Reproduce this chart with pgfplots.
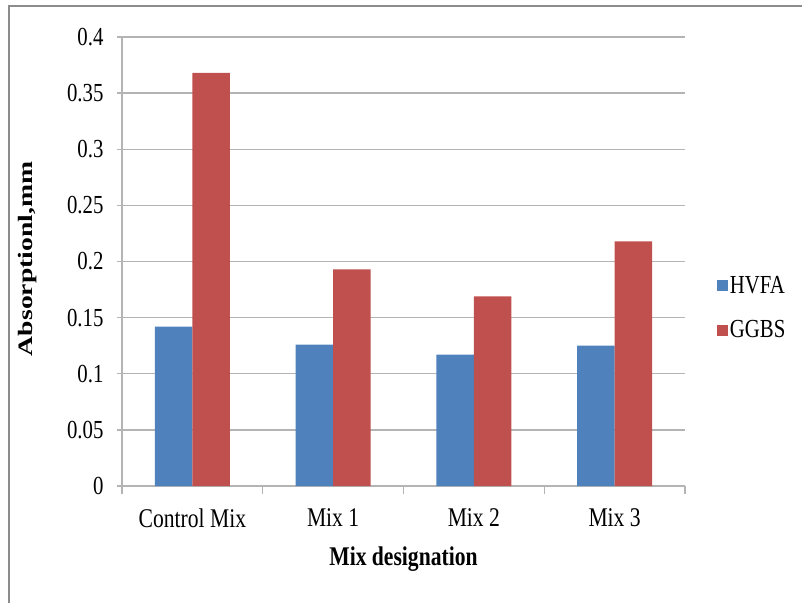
\documentclass[border=0pt]{standalone}
\usepackage{fontspec}
\setmainfont{Liberation Serif}[FakeStretch=0.8]
\newfontfamily\ylabfont{Liberation Serif}[FakeStretch=1.35]
\usepackage{pgfplots}
\pgfplotsset{compat=1.18}
\definecolor{hvfa}{HTML}{4F81BD}
\definecolor{ggbs}{HTML}{C0504D}
\definecolor{gridc}{HTML}{B4B4B4}
\definecolor{framec}{HTML}{8C8C8C}
\begin{document}
\begin{tikzpicture}[x=1pt,y=1pt]
\path[use as bounding box] (0,0) rectangle (802,603);
\draw[framec, line width=2pt] (8.5,0) -- (8.5,597) -- (802,597);
\begin{axis}[
  at={(122pt,117pt)}, anchor=south west,
  scale only axis, width=563pt, height=449pt,
  xmin=-0.5, xmax=3.5, ymin=0, ymax=0.4,
  ybar=0pt, bar width=37.5pt,
  xtick={0,1,2,3},
  xticklabels={Control Mix, Mix 1, Mix 2, Mix 3},
  minor xtick={-0.5,0.5,1.5,2.5,3.5},
  ytick={0,0.05,0.1,0.15,0.2,0.25,0.3,0.35,0.4},
  yticklabels={0,0.05,0.1,0.15,0.2,0.25,0.3,0.35,0.4},
  axis x line*=bottom, axis y line*=left,
  axis line style={gridc, line width=1.3pt, -},
  ymajorgrids, grid style={gridc, line width=1.3pt},
  tick align=outside,
  major tick length=5pt, minor tick length=8pt,
  major x tick style={draw=none},
  every tick/.style={gridc, line width=1.3pt},
  minor tick style={gridc, line width=1.3pt},
  /pgf/number format/assume math mode=true,
  yticklabel style={font=\fontsize{26}{30}\selectfont, text=black, xshift=-10pt},
  xticklabel style={font=\fontsize{27}{31}\selectfont, text=black, yshift=-14pt},
  xlabel={\textbf{Mix designation}},
  xlabel style={font=\fontsize{27}{31}\selectfont, yshift=-12pt},
  ylabel={\ylabfont\bfseries Absorptionl,mm},
  ylabel style={font=\fontsize{20.5}{24}\selectfont,
    at={(axis description cs:-0.168,0.506)}, anchor=center},
  legend style={at={(1.051,0.397)}, anchor=west, draw=none, fill=none,
    font=\fontsize{26}{30}\selectfont, row sep=22pt,
    legend cell align=left},
  legend image code/.code={\fill[#1] (0pt,-5.5pt) rectangle (11pt,5.5pt);},
]
\addplot[fill=hvfa, draw=none] coordinates {(0,0.142) (1,0.126) (2,0.117) (3,0.125)};
\addplot[fill=ggbs, draw=none] coordinates {(0,0.368) (1,0.193) (2,0.169) (3,0.218)};
\legend{HVFA, GGBS}
\end{axis}
\end{tikzpicture}
\end{document}
